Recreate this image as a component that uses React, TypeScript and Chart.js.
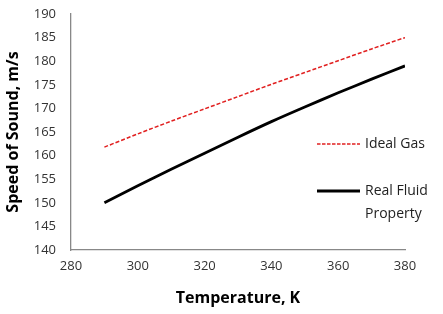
import React, { useEffect, useRef } from "react";
import { Chart, registerables } from "chart.js";

Chart.register(...registerables);

const temperatures = [290, 300, 310, 320, 330, 340, 350, 360, 370, 380];
const idealGas = [161.8, 164.6, 167.3, 169.9, 172.5, 175.1, 177.6, 180.1, 182.6, 185.0];
const realFluid = [150.0, 153.6, 157.1, 160.5, 163.9, 167.2, 170.3, 173.3, 176.2, 179.0];
const legendLabels = [["Ideal Gas"], ["Real Fluid", "Property"]];
const xTitle = "Temperature, K";
const yTitle = "Speed of Sound, m/s";

const FONT = "'Open Sans', 'Noto Sans', sans-serif";
const RED = "rgb(225, 32, 32)";

const legendPlugin = {
  id: "sideLegend",
  afterDraw(chart: any) {
    const ctx = chart.ctx;
    const items = [
      { y: 144, color: RED, width: 1.3, dash: [3.5, 1.5], lines: legendLabels[0] },
      { y: 191, color: "#000", width: 2.8, dash: [], lines: legendLabels[1] },
    ];
    ctx.save();
    ctx.font = `14px ${FONT}`;
    ctx.textBaseline = "middle";
    ctx.textAlign = "left";
    for (const it of items) {
      ctx.beginPath();
      ctx.strokeStyle = it.color;
      ctx.lineWidth = it.width;
      ctx.setLineDash(it.dash);
      ctx.moveTo(317, it.y);
      ctx.lineTo(360, it.y);
      ctx.stroke();
      ctx.setLineDash([]);
      ctx.fillStyle = "#222";
      it.lines.forEach((t: string, i: number) => ctx.fillText(t, 365, it.y + i * 23));
    }
    ctx.restore();
  },
};

export default function App() {
  const ref = useRef<HTMLCanvasElement>(null);
  useEffect(() => {
    if (!ref.current) return;
    const chart = new Chart(ref.current, {
      type: "line",
      data: {
        datasets: [
          {
            label: legendLabels[0].join(" "),
            data: temperatures.map((t, i) => ({ x: t, y: idealGas[i] })),
            borderColor: RED,
            borderWidth: 1.5,
            borderDash: [4, 2],
            pointRadius: 0,
            tension: 0.3,
          },
          {
            label: legendLabels[1].join(" "),
            data: temperatures.map((t, i) => ({ x: t, y: realFluid[i] })),
            borderColor: "#000",
            borderWidth: 2.8,
            pointRadius: 0,
            tension: 0.3,
          },
        ],
      },
      options: {
        animation: false,
        responsive: false,
        layout: { padding: { left: 0, right: 38, top: 14, bottom: 0 } },
        plugins: { legend: { display: false }, tooltip: { enabled: false } },
        scales: {
          x: {
            type: "linear",
            min: 280,
            max: 380,
            ticks: { stepSize: 20, color: "#333", font: { family: FONT, size: 13 }, padding: 8 },
            grid: { display: false, drawTicks: false },
            border: { color: "#888", width: 1.3 },
            title: {
              display: true,
              text: xTitle,
              color: "#000",
              font: { family: FONT, size: 16, weight: "bold" },
              padding: { top: 0, bottom: 6 },
            },
            afterFit(scale: any) {
              scale.height = 64;
            },
          },
          y: {
            min: 140,
            max: 190,
            ticks: { stepSize: 5, color: "#333", font: { family: FONT, size: 13 }, padding: 3 },
            grid: {
              display: true,
              drawOnChartArea: false,
              drawTicks: true,
              tickLength: 12,
              tickColor: "rgba(0,0,0,0)",
            },
            border: { color: "#888", width: 1.3 },
            title: {
              display: true,
              text: yTitle,
              color: "#000",
              font: { family: FONT, size: 16, weight: "bold" },
              padding: { top: 4, bottom: 0 },
            },
            afterFit(scale: any) {
              scale.width = 71;
            },
          },
        },
      },
      plugins: [legendPlugin],
    } as any);
    return () => chart.destroy();
  }, []);
  return (
    <div style={{ position: "fixed", left: 0, top: 0, width: 443, height: 314, background: "#fff" }}>
      <canvas ref={ref} width={443} height={314} />
    </div>
  );
}
